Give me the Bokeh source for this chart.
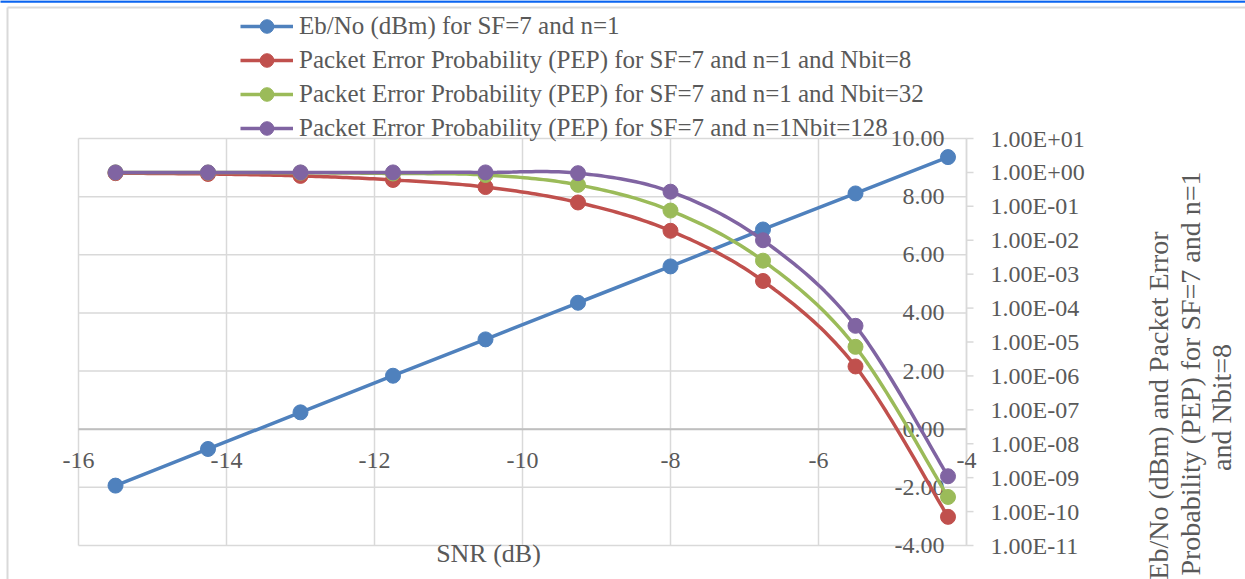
import numpy as np
from bokeh.plotting import figure
from bokeh.models import Range1d, LogScale, Legend, LegendItem
from bokeh.core.properties import value
from bokeh.embed import file_html
from bokeh.resources import INLINE

# SNR sweep (dB)
snr = [-15.5, -14.25, -13.0, -11.75, -10.5, -9.25, -8.0, -6.75, -5.5, -4.25]
# Eb/No (dBm) for SF=7, n=1  (left value scale)
ebno = [-1.94, -0.68, 0.58, 1.84, 3.09, 4.35, 5.60, 6.87, 8.11, 9.36]
# Packet error probability (log scale)
pep_8 = [0.95, 0.90, 0.79, 0.60, 0.37, 0.13, 0.019, 6.3e-4, 1.9e-6, 7.0e-11]
pep_32 = [1.0, 0.99, 0.98, 0.93, 0.84, 0.43, 0.075, 2.5e-3, 7.2e-6, 2.7e-10]
pep_128 = [1.0, 1.0, 1.0, 1.0, 1.0, 0.95, 0.27, 1.0e-2, 3.0e-5, 1.1e-9]

x_ticks = [-16, -14, -12, -10, -8, -6, -4]
y_ticks = [-4, -2, 0, 2, 4, 6, 8, 10]
log_exps = list(range(1, -12, -1))

legend_labels = [
    "Eb/No (dBm) for SF=7 and n=1",
    "Packet Error Probability (PEP) for SF=7 and n=1 and Nbit=8",
    "Packet Error Probability (PEP) for SF=7 and n=1 and Nbit=32",
    "Packet Error Probability (PEP) for SF=7 and n=1Nbit=128",
]
x_title = "SNR (dB)"
y_title_lines = ["Eb/No (dBm) and Packet Error",
                 "Probability (PEP) for SF=7 and n=1",
                 "and Nbit=8"]

BLUE, RED, GREEN, PURPLE = "#4F81BD", "#C0504D", "#9BBB59", "#8064A2"
TEXT = "#595959"
GRID = "#d9d9d9"
AXIS = "#bfbfbf"
FONT = "Liberation Serif"

# canvas and plot-area geometry (pixels)
W, H = 1245, 579
PL, PR, PT, PB = 78, 966, 138, 545
X0, X1, Y0, Y1 = -16, -4, -4, 10
LG0, LG1 = -11, 1          # log10 limits of the secondary scale


def dx(px):
    return X0 + (px - PL) * (X1 - X0) / (PR - PL)


def dy(py):
    return Y0 + (PB - py) * (Y1 - Y0) / (PB - PT)


def dlog(py):
    return 10.0 ** (LG0 + (PB - py) * (LG1 - LG0) / (PB - PT))


def smooth(xs, ys, n=24):
    """Excel-style smoothed line: cubic Bezier segments with Catmull-Rom handles."""
    P = np.column_stack([xs, ys]).astype(float)
    E = np.vstack([P[0], P, P[-1]])
    out = []
    for i in range(len(P) - 1):
        p0, p1, p2, p3 = E[i], E[i + 1], E[i + 2], E[i + 3]
        c1 = p1 + (p2 - p0) / 6.0
        c2 = p2 - (p3 - p1) / 6.0
        t = np.linspace(0, 1, n, endpoint=(i == len(P) - 2))[:, None]
        seg = ((1 - t) ** 3) * p1 + 3 * ((1 - t) ** 2) * t * c1 + 3 * (1 - t) * t ** 2 * c2 + t ** 3 * p2
        out.append(seg)
    out = np.vstack(out)
    return out[:, 0], out[:, 1]


p = figure(width=W, height=H, title=None,
           x_range=Range1d(dx(0), dx(W)), y_range=Range1d(dy(H), dy(0)),
           output_backend="svg", toolbar_location=None,
           x_axis_location=None, y_axis_location=None,
           min_border=0, min_border_left=0, min_border_right=0,
           min_border_top=0, min_border_bottom=0,
           background_fill_color="white", border_fill_color="white")
p.outline_line_color = None
p.xgrid.visible = False
p.ygrid.visible = False

p.extra_y_ranges = {"log": Range1d(dlog(H), dlog(0))}
p.extra_y_scales = {"log": LogScale()}

# chart-area frame and top highlight rule
p.segment(x0=[dx(7), dx(7)], y0=[dy(7), dy(7)], x1=[dx(W + 10), dx(7)], y1=[dy(7), dy(H + 10)],
          line_color=GRID, line_width=2)
p.segment(x0=[dx(-5)], y0=[dy(1)], x1=[dx(W + 5)], y1=[dy(1)], line_color="#0a64f0", line_width=2.5)

# gridlines
p.segment(x0=x_ticks, y0=[Y0] * len(x_ticks), x1=x_ticks, y1=[Y1] * len(x_ticks),
          line_color=GRID, line_width=1.5)
p.segment(x0=[X0] * len(y_ticks), y0=y_ticks, x1=[X1] * len(y_ticks), y1=y_ticks,
          line_color=GRID, line_width=1.5)
# horizontal axis crossing at zero
p.segment(x0=[X0], y0=[0], x1=[X1], y1=[0], line_color=AXIS, line_width=2)

# secondary (logarithmic) axis: line, ticks, labels
log_vals = [10.0 ** e for e in log_exps]
log_text = ["1.00E%s%02d" % ("-" if e < 0 else "+", abs(e)) for e in log_exps]
p.segment(x0=[X1], y0=[10.0 ** LG0], x1=[X1], y1=[10.0 ** LG1], line_color=GRID,
          line_width=1.5, y_range_name="log")
p.segment(x0=[X1] * len(log_vals), y0=log_vals, x1=[dx(PR + 7)] * len(log_vals), y1=log_vals,
          line_color=GRID, line_width=1.5, y_range_name="log")
p.text(x=[dx(PR + 24)] * len(log_vals), y=log_vals, text=log_text, y_range_name="log",
       text_align="left", text_baseline="middle", text_font=value(FONT),
       text_font_size=value("24px"), text_color=TEXT)

# tick labels of the crossing axes
p.text(x=x_ticks, y=[dy(460)] * len(x_ticks), text=[str(v) for v in x_ticks],
       text_align="center", text_baseline="middle", text_font=value(FONT),
       text_font_size=value("24px"), text_color=TEXT)
p.text(x=[dx(944)] * len(y_ticks), y=y_ticks, text=[f"{v:.2f}" for v in y_ticks],
       text_align="right", text_baseline="middle", text_font=value(FONT),
       text_font_size=value("24px"), text_color=TEXT)

# axis titles
p.text(x=[dx(488)], y=[dy(553)], text=[x_title], text_align="center", text_baseline="middle",
       text_font=value(FONT), text_font_size=value("26px"), text_color=TEXT)
p.text(x=[dx(1158), dx(1190), dx(1221)], y=[dy(405), dy(373), dy(407)], text=y_title_lines,
       angle=np.pi / 2, text_align="center", text_baseline="middle",
       text_font=value(FONT), text_font_size=value("28px"), text_color=TEXT)

# series
r_blue_l = p.line(snr, ebno, line_color=BLUE, line_width=3.5)
r_blue_m = p.scatter(snr, ebno, size=15, fill_color=BLUE, line_color=BLUE)

items = [LegendItem(label=legend_labels[0], renderers=[r_blue_l, r_blue_m])]
for vals, col, lab in [(pep_8, RED, legend_labels[1]),
                       (pep_32, GREEN, legend_labels[2]),
                       (pep_128, PURPLE, legend_labels[3])]:
    sx, sl = smooth(snr, np.log10(vals))
    rl = p.line(sx, 10.0 ** sl, line_color=col, line_width=3.5, y_range_name="log")
    rm = p.scatter(snr, vals, size=15, fill_color=col, line_color=col, y_range_name="log")
    items.append(LegendItem(label=lab, renderers=[rl, rm]))

legend = Legend(items=items, location=(240, H - 145),
                label_text_font=FONT, label_text_font_size="25px", label_text_color=TEXT,
                glyph_width=53, glyph_height=34, label_height=34, spacing=0,
                label_standoff=6, padding=0, margin=0,
                background_fill_alpha=0, border_line_alpha=0)
p.add_layout(legend, "center")

open("out.html", "w").write(file_html(p, INLINE))
